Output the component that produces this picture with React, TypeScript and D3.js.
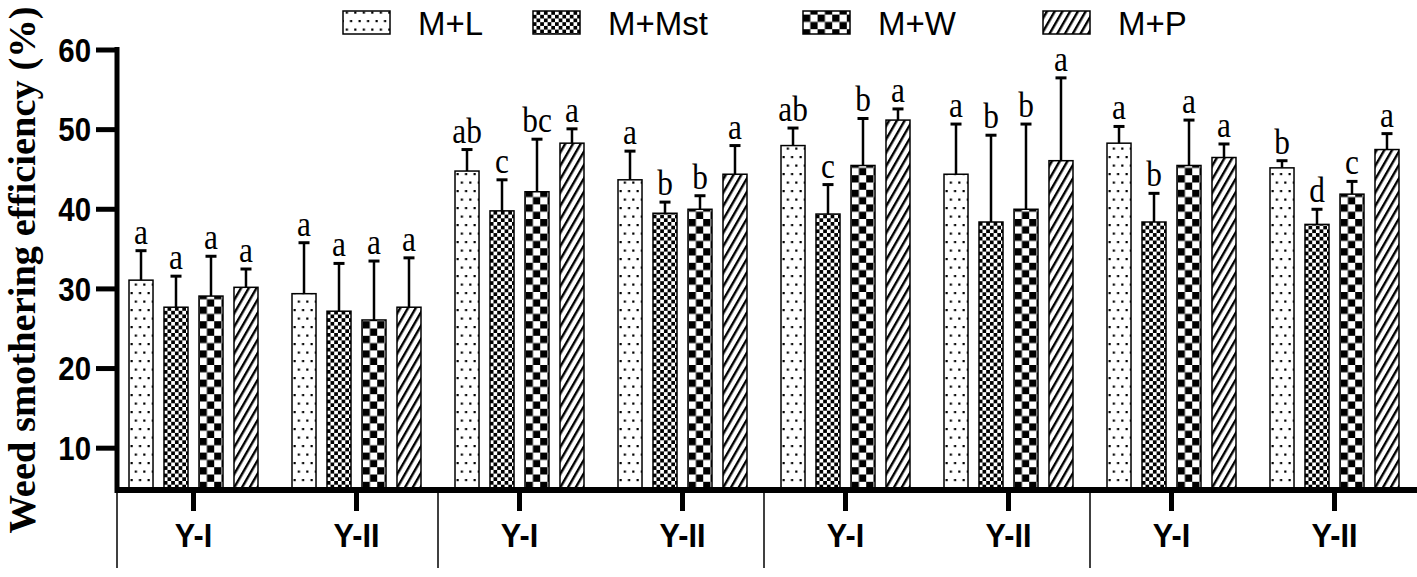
import React from 'react';
import * as d3 from 'd3';

// values
const categories = ['Y-I', 'Y-II', 'Y-I', 'Y-II', 'Y-I', 'Y-II', 'Y-I', 'Y-II'];
const seriesNames = ['M+L', 'M+Mst', 'M+W', 'M+P'];

const meanML = [31.1, 29.4, 44.8, 43.7, 48.0, 44.4, 48.3, 45.2];
const meanMMst = [27.7, 27.2, 39.8, 39.5, 39.4, 38.4, 38.4, 38.1];
const meanMW = [29.1, 26.1, 42.2, 40.0, 45.5, 40.0, 45.5, 41.9];
const meanMP = [30.2, 27.7, 48.3, 44.4, 51.2, 46.1, 46.5, 47.5];

const sdML = [3.7, 6.4, 2.7, 3.6, 2.2, 6.3, 2.1, 0.9];
const sdMMst = [3.9, 6.0, 3.9, 1.4, 3.7, 10.9, 3.6, 1.9];
const sdMW = [5.0, 7.4, 6.6, 1.7, 5.9, 10.7, 5.7, 1.6];
const sdMP = [2.3, 6.2, 1.8, 3.6, 1.4, 10.4, 1.7, 2.0];

const lettersML = ['a', 'a', 'ab', 'a', 'ab', 'a', 'a', 'b'];
const lettersMMst = ['a', 'a', 'c', 'b', 'c', 'b', 'b', 'd'];
const lettersMW = ['a', 'a', 'bc', 'b', 'b', 'b', 'a', 'c'];
const lettersMP = ['a', 'a', 'a', 'a', 'a', 'a', 'a', 'a'];

const yTicks = [10, 20, 30, 40, 50, 60];

const means = [meanML, meanMMst, meanMW, meanMP];
const sds = [sdML, sdMMst, sdMW, sdMP];
const letters = [lettersML, lettersMMst, lettersMW, lettersMP];
const patternIds = ['pDots', 'pFine', 'pCheck', 'pHatch'];

const W = 1417;
const H = 577;
const axisX = 117;
const axisY = 490;

const sans = '"Liberation Sans", Arial, sans-serif';
const serif = '"Liberation Serif", "Times New Roman", serif';

const App = () => {
  const keys = categories.map((_, i) => String(i));

  const x0 = d3.scaleBand<string>().domain(keys).range([112, 1416]).padding(0);
  const x1 = d3
    .scaleBand<string>()
    .domain(seriesNames)
    .range([0, x0.bandwidth()])
    .paddingInner(0.314)
    .paddingOuter(0.486);
  const y = d3.scaleLinear().domain([5, 60]).range([488, 50]);

  const legendX = [343, 533, 803, 1043];

  return (
    <svg
      width={W}
      height={H}
      style={{ position: 'absolute', left: 0, top: 0, background: '#fff' }}
    >
      <defs>
        <pattern id="pDots" patternUnits="userSpaceOnUse" width={8.5} height={17}>
          <rect width={8.5} height={17} fill="#fff" />
          <rect x={1.5} y={3} width={2.2} height={2.2} fill="#000" />
          <rect x={5.75} y={11.5} width={2.2} height={2.2} fill="#000" />
        </pattern>
        <pattern id="pFine" patternUnits="userSpaceOnUse" width={7.4} height={7.4}>
          <rect width={7.4} height={7.4} fill="#fff" />
          <rect x={0} y={0} width={3.7} height={3.7} fill="#000" />
          <rect x={3.7} y={3.7} width={3.7} height={3.7} fill="#000" />
        </pattern>
        <pattern id="pCheck" patternUnits="userSpaceOnUse" width={14.6} height={14.6}>
          <rect width={14.6} height={14.6} fill="#fff" />
          <rect x={0} y={0} width={7.3} height={7.3} fill="#000" />
          <rect x={7.3} y={7.3} width={7.3} height={7.3} fill="#000" />
        </pattern>
        <pattern
          id="pHatch"
          patternUnits="userSpaceOnUse"
          width={6.7}
          height={10}
          patternTransform="rotate(30)"
        >
          <rect width={6.7} height={10} fill="#fff" />
          <rect x={0} y={0} width={2.4} height={10} fill="#000" />
        </pattern>
      </defs>

      {/* legend */}
      {seriesNames.map((name, i) => (
        <g key={name}>
          <rect
            x={legendX[i]}
            y={11}
            width={47}
            height={23}
            fill={`url(#${patternIds[i]})`}
            stroke="#000"
            strokeWidth={1.5}
          />
          <text
            x={legendX[i] + 75}
            y={34.5}
            fontFamily={sans}
            fontSize={33}
            fill="#000"
          >
            {name}
          </text>
        </g>
      ))}

      {/* bars, error bars, letters */}
      {keys.map((k, ci) => (
        <g key={k} transform={`translate(${x0(k)},0)`}>
          {seriesNames.map((s, si) => {
            const v = means[si][ci];
            const top = v + sds[si][ci];
            const bx = x1(s) as number;
            const bw = x1.bandwidth();
            const cx = bx + bw / 2;
            return (
              <g key={s}>
                <line
                  x1={cx}
                  x2={cx}
                  y1={y(v)}
                  y2={y(top)}
                  stroke="#000"
                  strokeWidth={2.5}
                />
                <line
                  x1={cx - 5.5}
                  x2={cx + 5.5}
                  y1={y(top)}
                  y2={y(top)}
                  stroke="#000"
                  strokeWidth={3}
                />
                <rect
                  x={bx}
                  y={y(v)}
                  width={bw}
                  height={y(5) - y(v)}
                  fill={`url(#${patternIds[si]})`}
                  stroke="#000"
                  strokeWidth={1.5}
                />
                <text
                  transform={`translate(${cx},${y(top) - 7}) scale(0.95,1.08)`}
                  textAnchor="middle"
                  fontFamily={serif}
                  fontSize={33}
                  fill="#000"
                >
                  {letters[si][ci]}
                </text>
              </g>
            );
          })}
        </g>
      ))}

      {/* y axis */}
      <line x1={axisX} x2={axisX} y1={y(60) - 3} y2={axisY + 3} stroke="#000" strokeWidth={5} />
      {yTicks.map((t) => (
        <g key={t}>
          <line x1={96} x2={axisX} y1={y(t)} y2={y(t)} stroke="#000" strokeWidth={5} />
          <text
            transform={`translate(91,${y(t)}) scale(0.95,1.05)`}
            dy="0.36em"
            textAnchor="end"
            fontFamily={sans}
            fontWeight="bold"
            fontSize={31}
            fill="#000"
          >
            {t}
          </text>
        </g>
      ))}
      <text
        transform={`translate(35,270) rotate(-90)`}
        textAnchor="middle"
        fontFamily={serif}
        fontWeight="bold"
        fontSize={38.5}
        fill="#000"
      >
        Weed smothering efficiency (%)
      </text>

      {/* x axis */}
      <line x1={axisX - 2} x2={W} y1={axisY} y2={axisY} stroke="#000" strokeWidth={6} />
      {keys.map((k, i) => {
        const cx = (x0(k) as number) + x0.bandwidth() / 2;
        return (
          <g key={k}>
            <line x1={cx} x2={cx} y1={axisY} y2={511} stroke="#000" strokeWidth={5} />
            <text
              transform={`translate(${cx},547) scale(0.9,1)`}
              textAnchor="middle"
              fontFamily={sans}
              fontWeight="bold"
              fontSize={34}
              fill="#000"
            >
              {categories[i]}
            </text>
          </g>
        );
      })}
      {[0, 2, 4, 6].map((i) => {
        const sx = i === 0 ? axisX : (x0(keys[i]) as number);
        return (
          <line
            key={i}
            x1={sx}
            x2={sx}
            y1={axisY}
            y2={568}
            stroke="#000"
            strokeWidth={1.5}
          />
        );
      })}
    </svg>
  );
};

export default App;
